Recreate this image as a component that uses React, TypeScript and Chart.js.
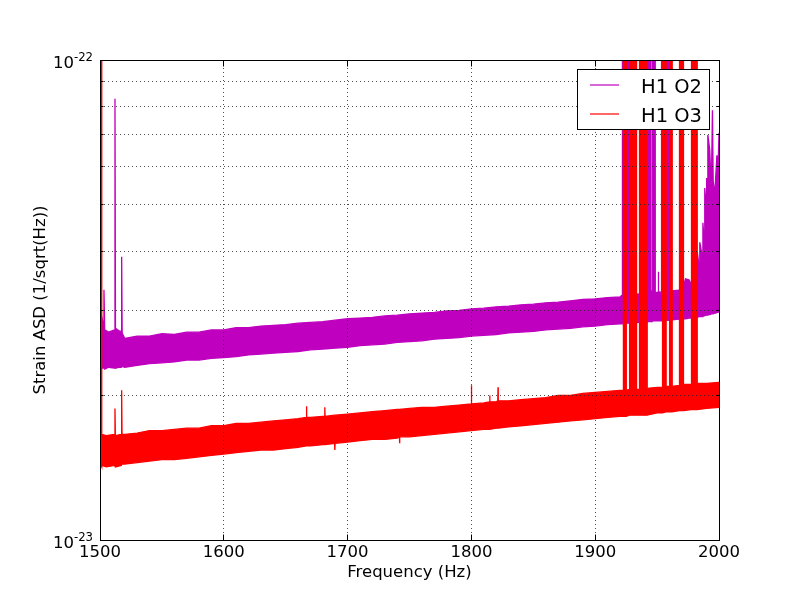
import { useEffect, useRef } from 'react';
import { Chart, registerables } from 'chart.js';

Chart.register(...registerables);

const FONT = '"DejaVu Sans", sans-serif';
const UNIT = 1e-23; // values below are in units of 1e-23 strain/sqrt(Hz)

// ---- H1 O2 (magenta): frequency, upper and lower edge of the noise band ----
const o2Freq = [
  1500, 1501, 1502.6, 1503.2, 1503.8, 1507, 1511.7, 1512.1, 1512.5, 1515, 1517.1, 1517.5, 1517.9, 1520,
  1530, 1540, 1550, 1560, 1570, 1580, 1590, 1600, 1610, 1620,
  1630, 1640, 1650, 1660, 1670, 1680, 1690, 1700, 1710, 1720,
  1730, 1740, 1750, 1760, 1770, 1780, 1790, 1800, 1810, 1820,
  1830, 1840, 1850, 1860, 1870, 1880, 1890, 1900, 1910, 1920,
  1921.9, 1922, 1923, 1923.1, 1925, 1925.1, 1927.8, 1927.9, 1930, 1940,
  1942.4, 1942.5, 1944.6, 1944.7, 1945.9, 1946, 1948.4, 1948.5, 1950.8, 1951,
  1951.2, 1953.5, 1953.6, 1960, 1960.1, 1970, 1973, 1976, 1978, 1981.8,
  1982.5, 1984, 1984.5, 1986.5, 1987, 1988, 1988.5, 1989.5, 1990, 1990.5,
  1991, 1992.5, 1993, 1994, 1994.7, 1995.3, 1996.5, 1997.5, 1998.3, 1999.2,
  2000,
];
const o2Upper = [
  3.12, 2.95, 2.82, 3.32, 2.74, 2.71, 2.74, 8.30, 2.76, 2.73, 2.72, 3.89, 2.70, 2.63,
  2.66, 2.66, 2.69, 2.68, 2.71, 2.71, 2.74, 2.74, 2.77, 2.77,
  2.79, 2.80, 2.81, 2.83, 2.84, 2.85, 2.87, 2.89, 2.90, 2.91,
  2.93, 2.94, 2.96, 2.97, 2.98, 3.00, 3.01, 3.03, 3.04, 3.06,
  3.07, 3.09, 3.10, 3.12, 3.13, 3.15, 3.17, 3.18, 3.20, 3.21,
  3.24, 100, 100, 3.30, 3.30, 100, 100, 3.28, 3.25, 3.26,
  3.27, 100, 100, 3.30, 3.30, 100, 100, 3.28, 3.28, 3.62,
  3.29, 3.28, 100, 100, 3.30, 3.32, 3.50, 3.48, 3.38, 3.42,
  3.98, 3.70, 4.17, 3.90, 4.58, 4.20, 5.41, 5.00, 5.68, 5.20,
  6.98, 6.50, 6.04, 5.80, 7.86, 5.60, 5.23, 5.80, 6.33, 5.90,
  7.05,
];
const o2Lower = [
  2.28, 2.27, 2.29, 2.28, 2.27, 2.29, 2.28, 2.29, 2.28, 2.29, 2.29, 2.29, 2.30, 2.29,
  2.31, 2.33, 2.34, 2.35, 2.37, 2.37, 2.39, 2.40, 2.41, 2.43,
  2.44, 2.45, 2.46, 2.47, 2.49, 2.50, 2.51, 2.52, 2.54, 2.55,
  2.56, 2.58, 2.59, 2.60, 2.62, 2.63, 2.64, 2.66, 2.67, 2.68,
  2.70, 2.71, 2.72, 2.74, 2.75, 2.76, 2.78, 2.79, 2.81, 2.82,
  2.82, 2.82, 2.82, 2.82, 2.83, 2.83, 2.83, 2.83, 2.83, 2.85,
  2.85, 2.85, 2.85, 2.85, 2.85, 2.86, 2.86, 2.86, 2.86, 2.86,
  2.86, 2.86, 2.86, 2.87, 2.87, 2.89, 2.89, 2.90, 2.90, 2.91,
  2.91, 2.92, 2.92, 2.92, 2.93, 2.93, 2.93, 2.94, 2.94, 2.94,
  2.95, 2.95, 2.95, 2.96, 2.96, 2.96, 2.97, 2.97, 2.98, 2.98,
  2.99,
];

// ---- H1 O3 (red) ----
const o3Freq = [
  1500, 1500.9, 1501.2, 1501.6, 1505, 1511.8, 1512.1, 1512.4, 1517.2, 1517.5, 1517.8, 1520,
  1530, 1540, 1550, 1560, 1570, 1580, 1590, 1600, 1610, 1620,
  1630, 1640, 1650, 1660, 1666.6, 1666.8, 1667, 1670, 1680, 1681.4,
  1681.6, 1681.8, 1689.5, 1689.7, 1689.9, 1700, 1710, 1720, 1730, 1740,
  1741.8, 1742, 1742.2, 1750, 1760, 1770, 1780, 1790, 1799.8, 1800,
  1800.2, 1810, 1814.6, 1814.8, 1815, 1820, 1821.3, 1821.5, 1821.7, 1830,
  1840, 1850, 1860, 1870, 1880, 1890, 1900, 1910, 1920, 1922.7,
  1922.8, 1925, 1925.1, 1927.7, 1927.8, 1933.3, 1933.4, 1935.7, 1935.8, 1938.2,
  1938.3, 1939.2, 1939.3, 1941.9, 1942, 1950, 1954.3, 1954.4, 1957.2, 1957.3,
  1960, 1960.1, 1962.1, 1962.2, 1968, 1968.1, 1971.2, 1971.3, 1977.7, 1977.8,
  1982.3, 1982.4, 1990, 2000,
];
const o3Upper = [
  100, 100, 2.00, 1.66, 1.65, 1.66, 1.88, 1.65, 1.66, 2.05, 1.66, 1.66,
  1.67, 1.69, 1.69, 1.70, 1.71, 1.71, 1.73, 1.73, 1.75, 1.75,
  1.76, 1.77, 1.78, 1.79, 1.80, 1.90, 1.80, 1.80, 1.81, 1.81,
  1.89, 1.81, 1.82, 1.82, 1.82, 1.83, 1.84, 1.85, 1.86, 1.87,
  1.87, 1.87, 1.87, 1.88, 1.89, 1.89, 1.90, 1.91, 1.92, 2.10,
  1.92, 1.93, 1.94, 2.00, 1.94, 1.94, 1.95, 2.08, 1.95, 1.95,
  1.96, 1.97, 1.98, 2.00, 2.00, 2.02, 2.03, 2.04, 2.05, 2.05,
  100, 100, 2.05, 2.06, 100, 100, 2.06, 2.06, 100, 100,
  2.06, 2.06, 100, 100, 2.07, 2.08, 2.08, 100, 100, 2.09,
  2.09, 100, 100, 2.09, 2.10, 100, 100, 2.11, 2.11, 100,
  100, 2.12, 2.12, 2.13,
];
const o3Lower = [
  1.43, 1.43, 1.42, 1.43, 1.42, 1.43, 1.43, 1.42, 1.43, 1.43, 1.44, 1.44,
  1.45, 1.46, 1.47, 1.47, 1.48, 1.49, 1.50, 1.51, 1.52, 1.53,
  1.54, 1.54, 1.55, 1.56, 1.57, 1.57, 1.57, 1.57, 1.58, 1.58,
  1.58, 1.58, 1.59, 1.54, 1.59, 1.60, 1.61, 1.62, 1.62, 1.63,
  1.64, 1.59, 1.64, 1.64, 1.65, 1.66, 1.67, 1.68, 1.69, 1.69,
  1.69, 1.70, 1.70, 1.70, 1.70, 1.71, 1.71, 1.71, 1.71, 1.72,
  1.73, 1.74, 1.75, 1.76, 1.77, 1.78, 1.79, 1.80, 1.81, 1.81,
  1.81, 1.81, 1.81, 1.82, 1.82, 1.82, 1.82, 1.82, 1.82, 1.82,
  1.82, 1.82, 1.82, 1.82, 1.82, 1.84, 1.84, 1.84, 1.85, 1.85,
  1.85, 1.85, 1.85, 1.85, 1.86, 1.86, 1.86, 1.86, 1.87, 1.87,
  1.87, 1.87, 1.88, 1.89,
];

// ---- axes / labels ----
const xTickValues = [1500, 1600, 1700, 1800, 1900, 2000];
const yGridValues = [1e-23, 2e-23, 3e-23, 4e-23, 5e-23, 6e-23, 7e-23, 8e-23, 9e-23, 1e-22];
const yMajorValues = [1e-23, 1e-22];
const yMajorExponents = ['-23', '-22'];
const legendLabels = ['H1 O2', 'H1 O3'];
const seriesColors = ['#bf00bf', '#ff0000'];
const xTitle = 'Frequency (Hz)';
const yTitle = 'Strain ASD (1/sqrt(Hz))';

function toPoints(freq: number[], vals: number[]) {
  const n = Math.min(freq.length, vals.length);
  const out: { x: number; y: number }[] = [];
  for (let i = 0; i < n; i++) out.push({ x: freq[i], y: vals[i] * UNIT });
  return out;
}

const decorPlugin = {
  id: 'mplDecor',
  afterDraw(chart: any) {
    const { ctx, chartArea: a, scales } = chart;
    const xs = scales.x;
    const ys = scales.y;
    const L = Math.floor(a.left) + 0.5;
    const R = Math.floor(a.right) + 0.5;
    const T = Math.floor(a.top) + 0.5;
    const B = Math.floor(a.bottom) + 0.5;
    ctx.save();
    ctx.strokeStyle = '#000';
    ctx.lineWidth = 1;
    ctx.setLineDash([]);
    // inward tick marks on all four sides
    ctx.beginPath();
    for (const v of xTickValues) {
      const px = Math.floor(xs.getPixelForValue(v)) + 0.5;
      ctx.moveTo(px, B); ctx.lineTo(px, B - 6);
      ctx.moveTo(px, T); ctx.lineTo(px, T + 6);
    }
    for (const v of yGridValues) {
      const py = Math.floor(ys.getPixelForValue(v)) + 0.5;
      const len = yMajorValues.includes(v) ? 6 : 3;
      ctx.moveTo(L, py); ctx.lineTo(L + len, py);
      ctx.moveTo(R, py); ctx.lineTo(R - len, py);
    }
    ctx.stroke();
    // frame
    ctx.strokeRect(L, T, R - L, B - T);

    ctx.fillStyle = '#000';
    // x tick labels
    ctx.font = `16.5px ${FONT}`;
    ctx.textAlign = 'center';
    ctx.textBaseline = 'alphabetic';
    for (const v of xTickValues) {
      ctx.fillText(String(v), xs.getPixelForValue(v), a.bottom + 17);
    }
    // y tick labels 10^n
    yMajorValues.forEach((v, i) => {
      const py = ys.getPixelForValue(v);
      const rightEdge = a.left - 7;
      ctx.textAlign = 'right';
      ctx.font = `11.7px ${FONT}`;
      const sup = yMajorExponents[i];
      const supW = ctx.measureText(sup).width;
      ctx.fillText(sup, rightEdge, py + 1);
      ctx.font = `16.5px ${FONT}`;
      ctx.fillText('10', rightEdge - supW, py + 8);
    });
    // axis titles
    ctx.font = `16.5px ${FONT}`;
    ctx.textAlign = 'center';
    ctx.fillText(xTitle, (a.left + a.right) / 2, a.bottom + 37);
    ctx.save();
    ctx.translate(45, (a.top + a.bottom) / 2);
    ctx.rotate(-Math.PI / 2);
    ctx.fillText(yTitle, 0, 0);
    ctx.restore();

    // legend
    const bx = Math.floor(a.right) - 142 + 0.5;
    const by = Math.floor(a.top) + 9 + 0.5;
    const bw = 132;
    const bh = 60;
    ctx.fillStyle = '#fff';
    ctx.fillRect(bx, by, bw, bh);
    ctx.strokeStyle = '#000';
    ctx.lineWidth = 1;
    ctx.strokeRect(bx, by, bw, bh);
    legendLabels.forEach((lab, i) => {
      const ly = a.top + 25 + i * 29;
      ctx.strokeStyle = seriesColors[i];
      ctx.lineWidth = 1.2;
      ctx.beginPath();
      ctx.moveTo(a.right - 129, ly);
      ctx.lineTo(a.right - 100, ly);
      ctx.stroke();
      ctx.fillStyle = '#000';
      ctx.font = `19.5px ${FONT}`;
      ctx.textAlign = 'left';
      ctx.fillText(lab, a.right - 78, ly + 8);
    });
    ctx.restore();
  },
};

export default function App() {
  const canvasRef = useRef<HTMLCanvasElement | null>(null);

  useEffect(() => {
    const canvas = canvasRef.current;
    if (!canvas) return;
    const lineBase = {
      borderWidth: 1.3,
      pointRadius: 0,
      pointHoverRadius: 0,
      tension: 0,
      clip: 0,
    };
    const chart = new Chart(canvas, {
      type: 'line',
      data: {
        datasets: [
          {
            ...lineBase,
            label: legendLabels[0],
            data: toPoints(o2Freq, o2Upper),
            borderColor: seriesColors[0],
            backgroundColor: seriesColors[0],
            fill: '+1',
            order: 2,
          },
          {
            ...lineBase,
            label: legendLabels[0] + ' (lower)',
            data: toPoints(o2Freq, o2Lower),
            borderColor: seriesColors[0],
            backgroundColor: seriesColors[0],
            fill: false,
            order: 2,
          },
          {
            ...lineBase,
            label: legendLabels[1],
            data: toPoints(o3Freq, o3Upper),
            borderColor: seriesColors[1],
            backgroundColor: seriesColors[1],
            fill: '+1',
            order: 1,
          },
          {
            ...lineBase,
            label: legendLabels[1] + ' (lower)',
            data: toPoints(o3Freq, o3Lower),
            borderColor: seriesColors[1],
            backgroundColor: seriesColors[1],
            fill: false,
            order: 1,
          },
        ],
      },
      options: {
        responsive: false,
        animation: false,
        events: [],
        layout: { padding: { left: 0, top: 60, right: 81, bottom: 0 } },
        plugins: {
          legend: { display: false },
          tooltip: { enabled: false },
          title: { display: false },
        },
        scales: {
          x: {
            type: 'linear',
            min: 1500,
            max: 2000,
            afterBuildTicks: (s: any) => {
              s.ticks = xTickValues.map((v) => ({ value: v }));
            },
            afterFit: (s: any) => {
              s.height = 60;
            },
            ticks: { display: false },
            grid: { color: '#222', lineWidth: 0.8, drawTicks: false, z: 1 },
            border: { display: false, dash: [1, 3] },
          },
          y: {
            type: 'logarithmic',
            min: 1e-23,
            max: 1e-22,
            afterBuildTicks: (s: any) => {
              s.ticks = yGridValues.map((v) => ({ value: v }));
            },
            afterFit: (s: any) => {
              s.width = 100;
            },
            ticks: { display: false },
            grid: { color: '#222', lineWidth: 0.8, drawTicks: false, z: 1 },
            border: { display: false, dash: [1, 3] },
          },
        },
      } as any,
      plugins: [decorPlugin],
    });
    return () => chart.destroy();
  }, []);

  return (
    <div style={{ position: 'absolute', left: 0, top: 0, width: 800, height: 600, background: '#fff' }}>
      <canvas ref={canvasRef} width={800} height={600} style={{ display: 'block', width: 800, height: 600 }} />
    </div>
  );
}
